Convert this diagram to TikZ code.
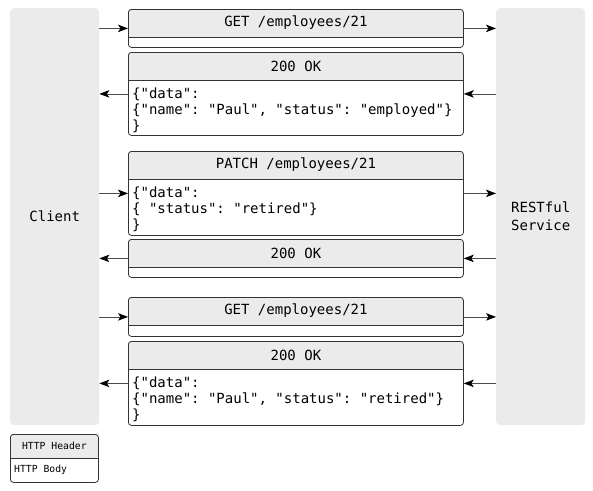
\documentclass[tikz,border=0pt]{standalone}
\usepackage{fontspec}
\setmonofont{DejaVu Sans Mono}
\usetikzlibrary{positioning, calc, arrows.meta}
\definecolor{panelgray}{HTML}{EBEBEB}
\definecolor{linegray}{HTML}{333333}
\newcommand{\httpfont}{\ttfamily\fontsize{14}{16}\selectfont}
\newcommand{\keyfont}{\ttfamily\fontsize{9.75}{12}\selectfont}
\tikzset{
panel/.style = {rectangle, fill = panelgray, rounded corners = 4pt, minimum width = 89pt,
   minimum height = 417pt, inner sep = 0pt, align = center, font = \httpfont},
msgbox/.style = {rectangle, draw = linegray, line width = 0.8pt, rounded corners = 3pt,
   minimum width = 335pt, inner sep = 0pt, anchor = north west,
   path picture = {
      \fill [panelgray] (path picture bounding box.north west) rectangle
         ([yshift = -#1]path picture bounding box.north east);
      \draw [linegray, line width = 0.8pt] ([yshift = -#1]path picture bounding box.north west)
         -- ([yshift = -#1]path picture bounding box.north east);
   }},
msgbox/.default = 28pt,
header/.style = {inner sep = 0pt, font = \httpfont},
body/.style = {inner sep = 0pt, align = left, anchor = north west, font = \httpfont},
call/.style = {-{Stealth[length = 10pt, width = 7.5pt, inset = 2.5pt, black]}, draw = black!70,
   line width = 0.8pt}
}

\begin{document}
\begin{tikzpicture}[x = 1pt, y = -1pt]
\useasboundingbox (0,0) rectangle (593,490);

%% Client and service
\node [panel, anchor = north west] (client) at (10,8) {Client};
\node [panel, anchor = north west] (service) at (496,8) {RESTful\\[2pt]Service};

%% Requests and responses
\foreach \n/\top/\h/\dir/\hd/\bd in {
   get1/9/38/1/{GET /employees/21}/{},
   ok1/52/83/0/{200 OK}/{\{"data":\\\{"name": "Paul", "status": "employed"\}\\\}},
   patch/151/84/1/{PATCH /employees/21}/{\{"data":\\\{ "status": "retired"\}\\\}},
   ok2/239/38/0/{200 OK}/{},
   get2/297/39/1/{GET /employees/21}/{},
   ok3/341/84/0/{200 OK}/{\{"data":\\\{"name": "Paul", "status": "retired"\}\\\}}} {
   \node [msgbox, minimum height = \h pt] (\n) at (128,\top) {};
   \node [header] (\n h) at ($(\n.north)+(0,14)$) {\hd};
   \node [body] (\n b) at ($(\n.north west)+(4,36)$) {\bd};
   \ifnum \dir = 1
      \draw [call] (client.east |- \n.west) -- (\n.west);
      \draw [call] (\n.east) -- (service.west |- \n.east);
   \else
      \draw [call] (service.west |- \n.east) -- (\n.east);
      \draw [call] (\n.west) -- (client.east |- \n.west);
   \fi
}

%% Legend
\node [msgbox = 24pt, minimum width = 88pt, minimum height = 48pt] (legend) at (10,434) {};
\node [header, font = \keyfont] (legendh) at ($(legend.north)+(0,12)$) {HTTP Header};
\node [header, font = \keyfont, anchor = west] (legendb) at ($(legend.north west)+(4,36)$) {HTTP Body};

\end{tikzpicture}
\end{document}
